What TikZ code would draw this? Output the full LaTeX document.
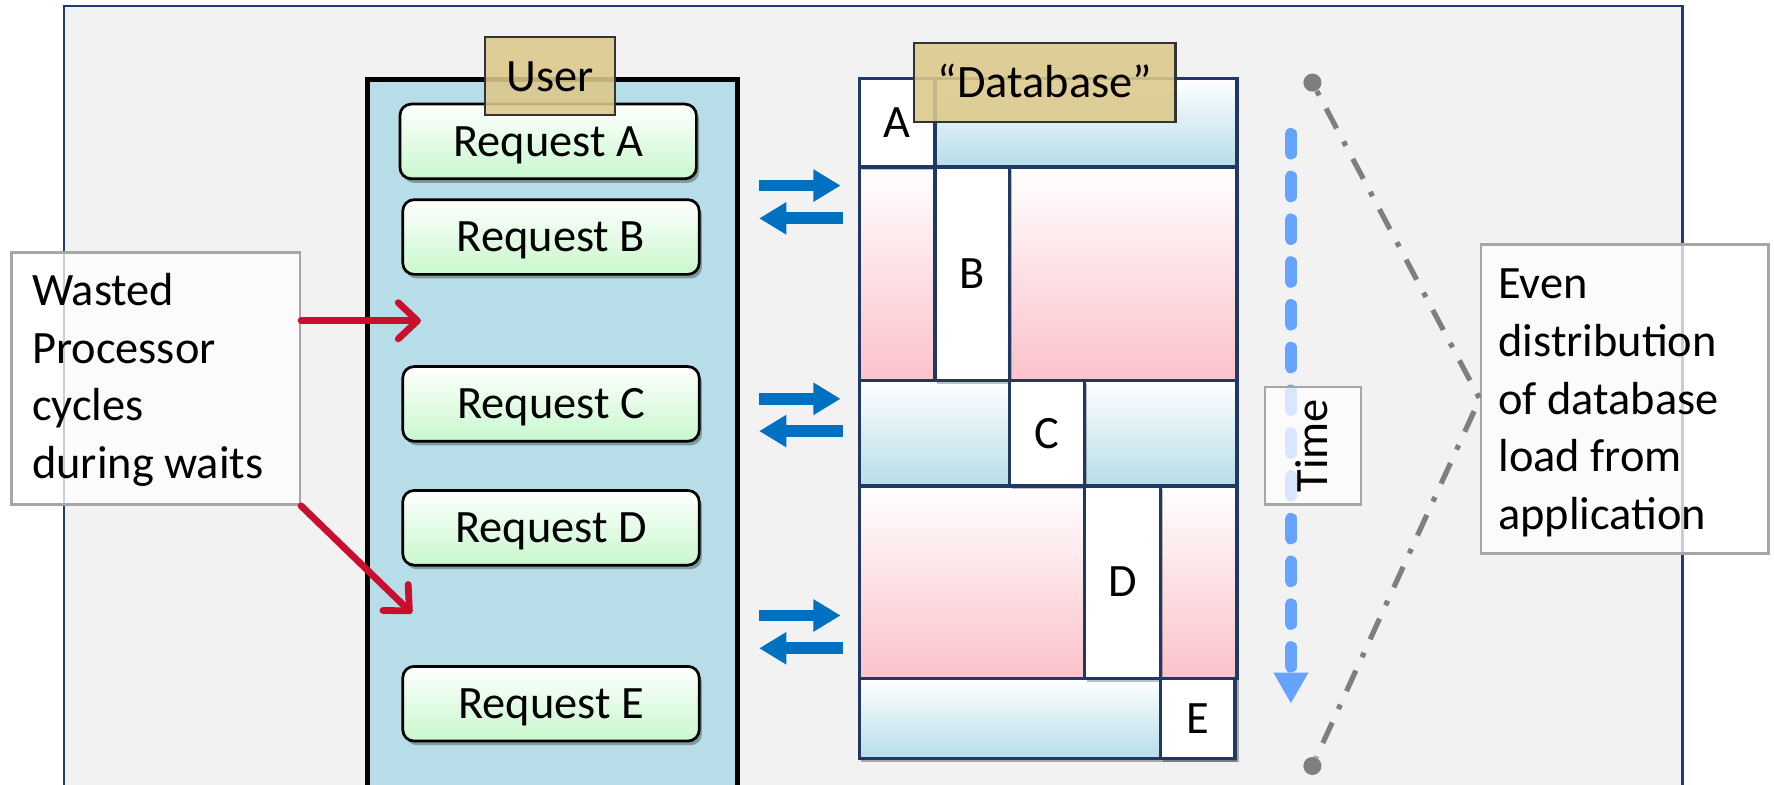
\documentclass[tikz,border=0pt]{standalone}
\usepackage{fontspec}
\setmainfont{Carlito}
\usetikzlibrary{arrows.meta,shadows,calc}

\definecolor{framefill}{HTML}{F2F2F2}
\definecolor{framedraw}{HTML}{1F3B73}
\definecolor{userblue}{HTML}{B7DDE8}
\definecolor{tanfill}{HTML}{DCC88A}
\definecolor{reqgreen}{HTML}{C8F8CC}
\definecolor{pinkfill}{HTML}{FBC2CA}
\definecolor{dbnavy}{HTML}{1F3864}
\definecolor{arrowblue}{HTML}{0070C0}
\definecolor{wastered}{HTML}{C8102E}
\definecolor{timeblue}{HTML}{66A3FF}
\definecolor{leadgray}{HTML}{7F7F7F}
\definecolor{notegray}{HTML}{A6A6A6}

\begin{document}
\begin{tikzpicture}[x=0.5pt,y=-0.5pt,
  every node/.style={font=\fontsize{20.5}{25.5}\selectfont, inner sep=0pt},
  capcentered/.style={text height=13pt, text depth=0pt},
  reqbox/.style={capcentered, draw=black, line width=1.2pt, rounded corners=5pt,
    top color=white, bottom color=reqgreen, minimum width=131pt, minimum height=33pt,
    drop shadow={shadow xshift=1.2pt, shadow yshift=-1.8pt, opacity=0.3, fill=black}},
  tanlabel/.style={capcentered, draw=black!80, line width=0.9pt, fill=tanfill,
    fill opacity=0.88, text opacity=1},
  cellbase/.style={anchor=north west, draw=dbnavy, line width=1.5pt},
  bluecell/.style={cellbase, top color=white, bottom color=userblue},
  pinkcell/.style={cellbase, top color=white, bottom color=pinkfill},
  whitecell/.style={cellbase, capcentered, fill=white,
    drop shadow={shadow xshift=1pt, shadow yshift=-1.5pt, opacity=0.25, fill=black}},
  notebox/.style={draw=notegray, line width=1.1pt, fill=white, fill opacity=0.75,
    text opacity=1},
  notetext/.style={anchor=base west, align=left, text width=#1},
  flowarrow/.style={draw=arrowblue, line width=5.2pt, -{Triangle[length=12pt,width=13.5pt]}},
  wastearrow/.style={draw=wastered, line width=3pt, line cap=round,
    -{Straight Barb[length=8.5pt,width=16pt,line cap=round,line join=round]}},
  timearrow/.style={draw=timeblue, line width=5pt, line cap=round,
    dash pattern=on 9pt off 9.9pt, -{Triangle[length=13.8pt,width=14.5pt]}},
  leadline/.style={draw=leadgray, line width=2.3pt,
    dash pattern=on 2.2pt off 6.5pt on 10pt off 6.5pt},
  leaddot/.style={circle, fill=leadgray, minimum size=8pt}
]
\useasboundingbox (0,0) rectangle (1568,693);
\clip (0,0) rectangle (1568,693);

% slide background
\fill[white] (0,0) rectangle (1568,693);
\draw[framedraw, fill=framefill, line width=1pt] (56.5,5.5) rectangle (1487,760);

% user side
\node[anchor=north west, draw=black, line width=2.2pt, fill=userblue,
  minimum width=163.5pt, minimum height=400pt] (ucol) at (323,68) {};
\node[reqbox] (reqA) at (484.5,125) {Request A};
\node[reqbox] (reqB) at (487,209.5) {Request B};
\node[reqbox] (reqC) at (487,357) {Request C};
\node[reqbox] (reqD) at (487,466.5) {Request D};
\node[reqbox] (reqE) at (487,622) {Request E};
\node[tanlabel, minimum width=57.5pt, minimum height=34.5pt] (ulab) at (486.5,67.5) {User};

% database timeline
\node[anchor=north west, fill=white, minimum width=167pt, minimum height=300.5pt,
  drop shadow={shadow xshift=1.2pt, shadow yshift=-2pt, opacity=0.3, fill=black}] (db) at (758,68) {};
\node[bluecell, minimum width=133.5pt, minimum height=39pt] (rA) at (825,68) {};
\node[pinkcell, minimum width=33.5pt, minimum height=94.5pt] (pB1) at (758,146) {};
\node[pinkcell, minimum width=100.5pt, minimum height=94.5pt] (pB2) at (891,146) {};
\node[bluecell, minimum width=66.5pt, minimum height=46.5pt] (bC1) at (758,335) {};
\node[bluecell, minimum width=67.5pt, minimum height=46.5pt] (bC2) at (957,335) {};
\node[pinkcell, minimum width=99.5pt, minimum height=85pt] (pD1) at (758,428) {};
\node[pinkcell, minimum width=34pt, minimum height=85pt] (pD2) at (1024,428) {};
\node[bluecell, minimum width=133pt, minimum height=35.5pt] (bE) at (758,598) {};
\node[whitecell, minimum width=33.5pt, minimum height=39pt] (cA) at (758,68) {A};
\node[whitecell, minimum width=33pt, minimum height=94.5pt] (cB) at (825,146) {B};
\node[whitecell, minimum width=33pt, minimum height=46.5pt] (cC) at (891,335) {C};
\node[whitecell, minimum width=33.5pt, minimum height=85pt] (cD) at (957,428) {D};
\node[whitecell, minimum width=33pt, minimum height=35.5pt] (cE) at (1024,598) {E};
\node[tanlabel, minimum width=115.5pt, minimum height=35pt] (dblab) at (923.5,73) {“Database”};

% request / response traffic
\coordinate (q1a) at (671,164);  \coordinate (q1b) at (743,164);
\coordinate (s1a) at (745,193);  \coordinate (s1b) at (671,193);
\coordinate (q2a) at (671,352.5);\coordinate (q2b) at (743,352.5);
\coordinate (s2a) at (745,381);  \coordinate (s2b) at (671,381);
\coordinate (q3a) at (671,544);  \coordinate (q3b) at (743,544);
\coordinate (s3a) at (745,573);  \coordinate (s3b) at (671,573);
\draw[flowarrow] (q1a) -- (q1b);
\draw[flowarrow] (s1a) -- (s1b);
\draw[flowarrow] (q2a) -- (q2b);
\draw[flowarrow] (s2a) -- (s2b);
\draw[flowarrow] (q3a) -- (q3b);
\draw[flowarrow] (s3a) -- (s3b);

% idle processor note
\node[notebox, minimum width=127.5pt, minimum height=111.5pt] (wasted) at (137.5,334.5) {};
\node[notetext=110pt] (wastedtxt) at (28,270)
  {\spaceskip=0.226em\relax Wasted\\Processor\\cycles\\during waits};
\coordinate (w1) at (372,283.5);
\coordinate (w2) at (364,542);
\draw[wastearrow] (wasted.east |- w1) -- (w1);
\draw[wastearrow] (wasted.south east) -- (w2);

% time axis
\coordinate (t1) at (1141,118);
\coordinate (t2) at (1141,622);
\draw[timearrow] (t1) -- (t2);
\node[notebox, capcentered, rotate=90, minimum width=52pt, minimum height=42.5pt] (time) at (1160.5,394) {Time};

% load distribution note
\node[notebox, minimum width=127pt, minimum height=136.5pt] (even) at (1436,352.5) {};
\node[notetext=112pt] (eventxt) at (1324,264)
  {\spaceskip=0.226em\relax Even\\distribution\\of database\\load from\\application};
\node[leaddot] (g1) at (1160,73) {};
\node[leaddot] (g2) at (1160,677) {};
\draw[leadline] (g1) -- (even.west) -- (g2);
\end{tikzpicture}
\end{document}
